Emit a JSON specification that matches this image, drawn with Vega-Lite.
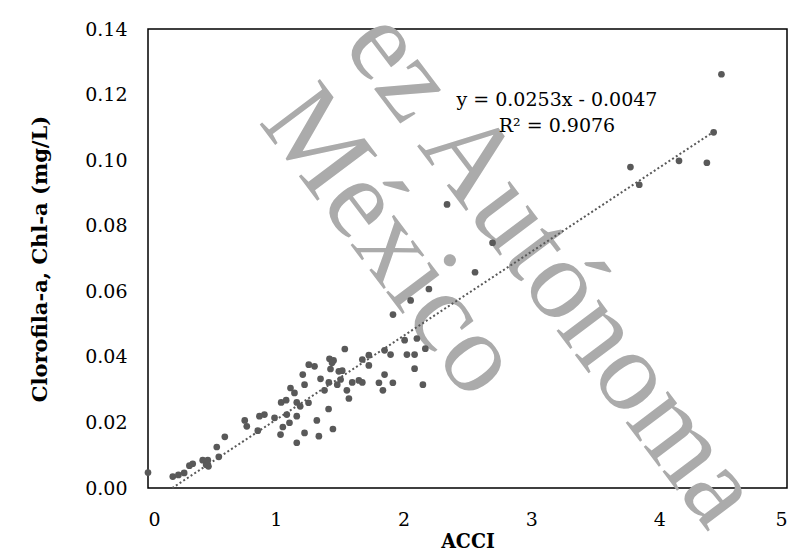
{
  "$schema": "https://vega.github.io/schema/vega-lite/v6.json",
  "autosize": {"type": "none"},
  "padding": {"left": 148, "top": 29, "right": 22, "bottom": 71},
  "width": 639,
  "height": 459,
  "background": "white",
  "config": {
    "view": {"stroke": "black", "strokeWidth": 1.5},
    "axis": {"grid": false, "domain": false, "ticks": false, "tickSize": 0}
  },
  "datasets": {
    "pts": [
      {"acci": 0.0, "chl": 0.0047}, {"acci": 0.194, "chl": 0.0035}, {"acci": 0.238, "chl": 0.004}, {"acci": 0.283, "chl": 0.0046},
      {"acci": 0.324, "chl": 0.0068}, {"acci": 0.35, "chl": 0.0074}, {"acci": 0.428, "chl": 0.0085}, {"acci": 0.455, "chl": 0.0071},
      {"acci": 0.468, "chl": 0.0085}, {"acci": 0.473, "chl": 0.0066}, {"acci": 0.554, "chl": 0.0095}, {"acci": 0.538, "chl": 0.0125},
      {"acci": 0.601, "chl": 0.0156}, {"acci": 0.757, "chl": 0.0206}, {"acci": 0.773, "chl": 0.0188}, {"acci": 0.859, "chl": 0.0175},
      {"acci": 0.872, "chl": 0.0219}, {"acci": 0.911, "chl": 0.0224}, {"acci": 0.99, "chl": 0.0214}, {"acci": 1.042, "chl": 0.0261},
      {"acci": 1.081, "chl": 0.0268}, {"acci": 1.037, "chl": 0.0163}, {"acci": 1.055, "chl": 0.0186}, {"acci": 1.086, "chl": 0.0224},
      {"acci": 1.107, "chl": 0.0199}, {"acci": 1.115, "chl": 0.0305}, {"acci": 1.146, "chl": 0.029}, {"acci": 1.164, "chl": 0.0219},
      {"acci": 1.164, "chl": 0.0138}, {"acci": 1.164, "chl": 0.0261}, {"acci": 1.191, "chl": 0.0249}, {"acci": 1.211, "chl": 0.0346},
      {"acci": 1.225, "chl": 0.0315}, {"acci": 1.225, "chl": 0.0168}, {"acci": 1.258, "chl": 0.0376}, {"acci": 1.256, "chl": 0.026},
      {"acci": 1.303, "chl": 0.0371}, {"acci": 1.321, "chl": 0.0206}, {"acci": 1.337, "chl": 0.0158}, {"acci": 1.35, "chl": 0.0333},
      {"acci": 1.381, "chl": 0.0298}, {"acci": 1.413, "chl": 0.0241}, {"acci": 1.42, "chl": 0.0394}, {"acci": 1.452, "chl": 0.0389},
      {"acci": 1.428, "chl": 0.0363}, {"acci": 1.415, "chl": 0.0322}, {"acci": 1.447, "chl": 0.018}, {"acci": 1.44, "chl": 0.0382},
      {"acci": 1.481, "chl": 0.0315}, {"acci": 1.493, "chl": 0.0356}, {"acci": 1.507, "chl": 0.0331}, {"acci": 1.52, "chl": 0.0358},
      {"acci": 1.54, "chl": 0.0424}, {"acci": 1.556, "chl": 0.0298}, {"acci": 1.572, "chl": 0.0273}, {"acci": 1.598, "chl": 0.0322},
      {"acci": 1.65, "chl": 0.0328}, {"acci": 1.677, "chl": 0.0322}, {"acci": 1.677, "chl": 0.0392}, {"acci": 1.728, "chl": 0.0405},
      {"acci": 1.728, "chl": 0.0374}, {"acci": 1.807, "chl": 0.0321}, {"acci": 1.838, "chl": 0.0298}, {"acci": 1.851, "chl": 0.0346},
      {"acci": 1.851, "chl": 0.042}, {"acci": 1.898, "chl": 0.0407}, {"acci": 1.916, "chl": 0.0321}, {"acci": 1.917, "chl": 0.0529},
      {"acci": 2.008, "chl": 0.0451}, {"acci": 2.026, "chl": 0.0407}, {"acci": 2.055, "chl": 0.0572}, {"acci": 2.086, "chl": 0.0407},
      {"acci": 2.086, "chl": 0.0364}, {"acci": 2.104, "chl": 0.0456}, {"acci": 2.151, "chl": 0.0315}, {"acci": 2.17, "chl": 0.0425},
      {"acci": 2.198, "chl": 0.0607}, {"acci": 2.34, "chl": 0.0865}, {"acci": 2.559, "chl": 0.0658}, {"acci": 2.696, "chl": 0.0748},
      {"acci": 3.775, "chl": 0.0979}, {"acci": 3.844, "chl": 0.0925}, {"acci": 4.155, "chl": 0.0998}, {"acci": 4.373, "chl": 0.0992},
      {"acci": 4.426, "chl": 0.1085}, {"acci": 4.487, "chl": 0.1262}
    ],
    "trend": [{"acci": 0.19, "chl": 0.0}, {"acci": 4.44, "chl": 0.109}],
    "eq": [
      {"acci": 3.2, "chl": 0.1166, "label": "y = 0.0253x - 0.0047"},
      {"acci": 3.2, "chl": 0.1085, "label": "R² = 0.9076"}
    ],
    "wm": [
      {"acci": 0.859, "chl": 0.1117, "label": "México"},
      {"acci": 1.515, "chl": 0.1349, "label": "ez Autónoma"}
    ]
  },
  "encoding": {
    "x": {
      "field": "acci", "type": "quantitative",
      "scale": {"domain": [0, 5], "nice": false, "zero": false},
      "axis": {
        "values": [0, 1, 2, 3, 4, 5], "format": "d", "title": "ACCI",
        "labelFont": "DejaVu Serif", "labelFontSize": 19, "labelColor": "black", "labelPadding": 22,
        "titleFont": "'DejaVu Serif Condensed', 'DejaVu Serif'", "titleFontSize": 21, "titleFontWeight": "bold",
        "titleColor": "black", "titlePadding": 1
      }
    },
    "y": {
      "field": "chl", "type": "quantitative",
      "scale": {"domain": [0, 0.14], "nice": false, "zero": false},
      "axis": {
        "values": [0, 0.02, 0.04, 0.06, 0.08, 0.1, 0.12, 0.14], "format": ".2f",
        "title": "Clorofila-a,  Chl-a (mg/L)",
        "labelFont": "DejaVu Serif", "labelFontSize": 19, "labelColor": "black", "labelPadding": 21,
        "titleFont": "DejaVu Serif", "titleFontSize": 21, "titleFontWeight": "bold",
        "titleColor": "black", "titlePadding": 34
      }
    }
  },
  "layer": [
    {
      "data": {"name": "wm"},
      "mark": {"type": "text", "font": "Liberation Serif", "fontSize": 115, "angle": 53, "align": "left", "baseline": "alphabetic", "color": "#ababab"},
      "encoding": {"text": {"field": "label"}}
    },
    {
      "data": {"name": "trend"},
      "mark": {"type": "line", "color": "#595959", "strokeWidth": 2, "strokeDash": [2, 2.4]},
      "encoding": {}
    },
    {
      "data": {"name": "pts"},
      "mark": {"type": "circle", "size": 45, "opacity": 1, "color": "#595959"},
      "encoding": {}
    },
    {
      "data": {"name": "eq"},
      "mark": {"type": "text", "font": "DejaVu Serif", "fontSize": 19, "align": "center", "baseline": "alphabetic", "color": "black"},
      "encoding": {"text": {"field": "label"}}
    }
  ]
}
